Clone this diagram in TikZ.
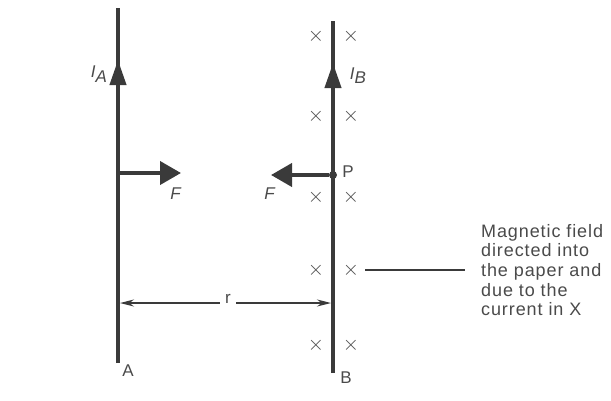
\documentclass[tikz,border=0pt]{standalone}
\usepackage{fontspec}
\setmainfont{Liberation Sans}
\usetikzlibrary{arrows.meta}
\definecolor{ink}{HTML}{3A3A3A}
\definecolor{txt}{HTML}{4A4A4A}
\begin{document}
\begin{tikzpicture}[x=1pt,y=-1pt,
  wire/.style={draw=ink,line width=4pt},
  curarrow/.style={draw=ink,line width=4pt,-{Triangle[length=25pt,width=16pt]}},
  force/.style={draw=ink,line width=4pt,-{Triangle[length=21pt,width=23pt]}},
  dim/.style={draw=ink,line width=1.4pt,{Stealth[length=14pt,width=7pt]}-{Stealth[length=14pt,width=7pt]}},
  lead/.style={draw=ink,line width=1.4pt},
  cross/.style={text=txt,font=\fontsize{20}{20}\selectfont,inner sep=0pt},
  lbl/.style={text=txt,font=\fontsize{17}{18}\selectfont,inner sep=1pt},
  note/.style={text=txt,font=\fontsize{18}{19.6}\selectfont\addfontfeature{LetterSpace=5},align=left,anchor=north west,inner sep=0pt}]
\useasboundingbox (0,0) rectangle (611,400);
% wire A
\coordinate (aTop) at (118,8);
\coordinate (aBot) at (118,363);
\coordinate (aArrBase) at (118,100);
\coordinate (aArrTip) at (118,60);
\draw[wire] (aBot) -- (aTop);
\draw[curarrow] (aArrBase) -- (aArrTip);
\node[lbl] (IA) at (99,74) {\textit{I}\raisebox{-5pt}{\textit{A}}};
\node[lbl] (lA) at (128,371) {A};
% wire B
\coordinate (bTop) at (333,21);
\coordinate (bBot) at (333,373);
\coordinate (bArrBase) at (333,103);
\coordinate (bArrTip) at (333,63);
\draw[wire] (bBot) -- (bTop);
\draw[curarrow] (bArrBase) -- (bArrTip);
\node[lbl] (IB) at (358,76) {\textit{I}\raisebox{-4pt}{\textit{B}}};
\node[lbl] (lB) at (346,378) {B};
% forces
\coordinate (fAs) at (118,173);
\coordinate (fAe) at (181,173);
\draw[force] (fAs) -- (fAe);
\node[lbl] (FA) at (176,194) {\textit{F}};
\node[circle,fill=ink,inner sep=0pt,minimum size=8pt] (P) at (333,175) {};
\coordinate (fBe) at (271,175);
\draw[force] (P) -- (fBe);
\node[lbl] (FB) at (270,194) {\textit{F}};
\node[lbl,inner sep=0pt] (Plbl) at (348,172) {P};
% crosses
\foreach \y [count=\i] in {36,116,197,270,345}{
  \node[cross] (cl\i) at (316,\y) {$\times$};
  \node[cross] (cr\i) at (351,\y) {$\times$};
}
% separation
\coordinate (rA) at (120,303);
\coordinate (rB) at (331,303);
\draw[dim] (rA) -- (rB);
\node[fill=white,lbl,inner sep=5pt] (r) at (228,299) {r};
% leader and note
\coordinate (leadEnd) at (465,270);
\draw[lead] (cr4.east) ++(6,0) coordinate (leadStart) (leadStart) -- (leadEnd);
\node[note] (txt) at (481,224) {Magnetic field\\directed into\\the paper and\\due to the\\current in X};
\end{tikzpicture}
\end{document}
